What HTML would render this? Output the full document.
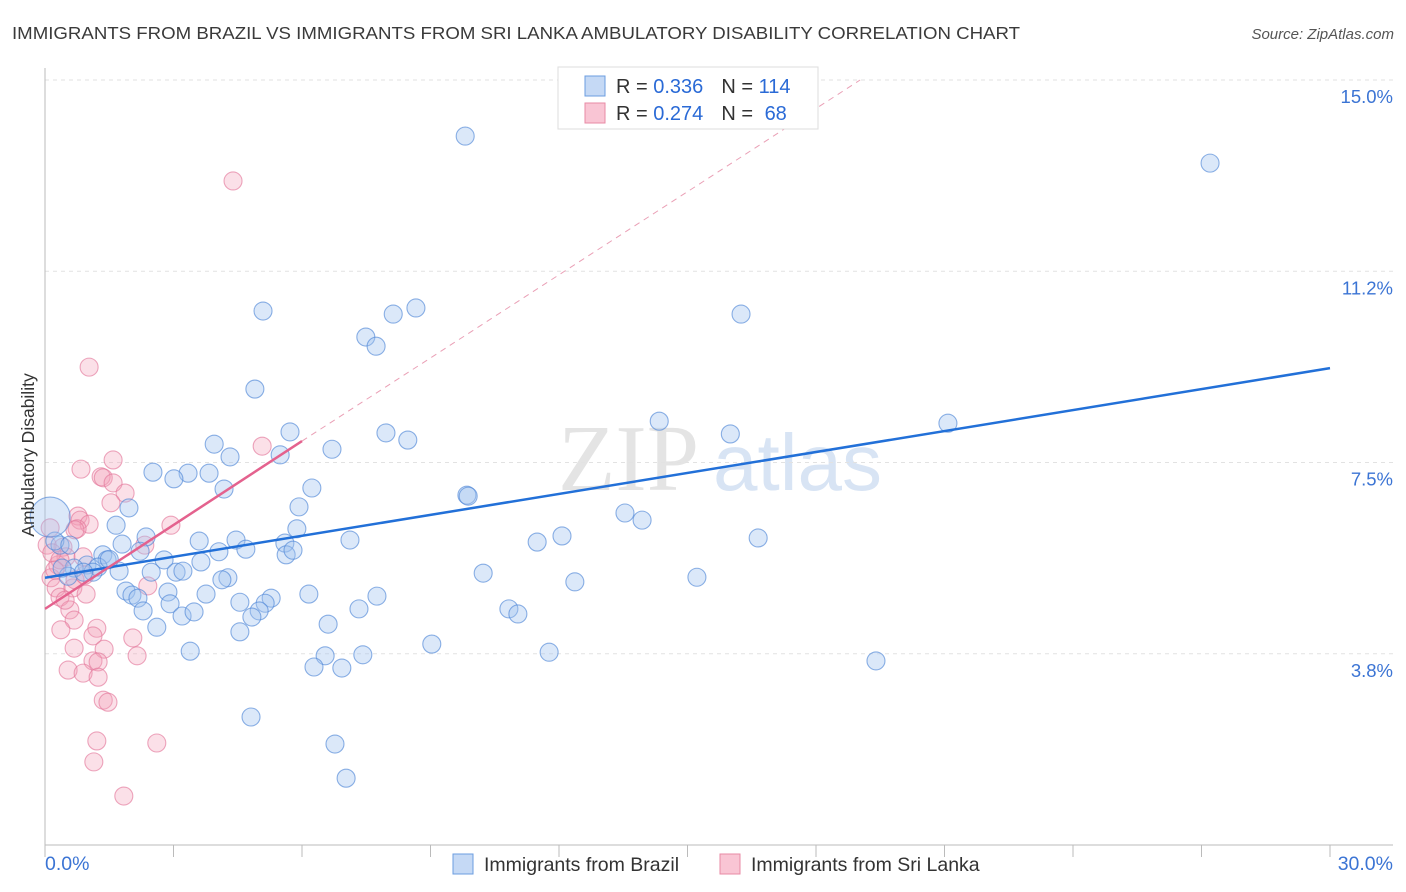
<!DOCTYPE html>
<html><head><meta charset="utf-8"><style>
body{margin:0;background:#fff;font-family:"Liberation Sans",sans-serif;}
</style></head><body>
<svg id="chart" width="1406" height="892" xmlns="http://www.w3.org/2000/svg" style="display:block">
<text x="12" y="39" font-size="17.5" fill="#3a3a3a" textLength="1008" lengthAdjust="spacingAndGlyphs">IMMIGRANTS FROM BRAZIL VS IMMIGRANTS FROM SRI LANKA AMBULATORY DISABILITY CORRELATION CHART</text>
<text x="1394" y="39" font-size="15" fill="#555" text-anchor="end" font-style="italic">Source: ZipAtlas.com</text>
<text x="720" y="490" font-size="94" text-anchor="middle" fill="#e4e4e4" font-family="Liberation Serif, serif">ZIP<tspan fill="#d8e4f4" font-family="Liberation Sans, sans-serif" font-size="80" dx="14">atlas</tspan></text>
<g id="grid"></g>
<g id="axes"></g>
<g id="pts"></g>
<g id="trends"></g>
<text transform="translate(34,455) rotate(-90)" font-size="17.5" fill="#333" text-anchor="middle">Ambulatory Disability</text>
<g>
<rect x="558" y="67" width="260" height="62" fill="#fff" stroke="#ddd"/>
<rect x="585" y="76" width="20" height="20" fill="#c5d9f5" stroke="#6b9de0"/>
<rect x="585" y="103" width="20" height="20" fill="#f9c5d4" stroke="#e88aa5"/>
<text x="616" y="93" font-size="20" fill="#333">R = <tspan fill="#2a6ad6">0.336</tspan><tspan dx="18">N = </tspan><tspan fill="#2a6ad6">114</tspan></text>
<text x="616" y="120" font-size="20" fill="#333">R = <tspan fill="#2a6ad6">0.274</tspan><tspan dx="18">N = </tspan><tspan fill="#2a6ad6" dx="6">68</tspan></text>
</g>
<g>
<rect x="453" y="854" width="20" height="20" fill="#c5d9f5" stroke="#6b9de0"/>
<text x="484" y="871" font-size="19.5" fill="#333">Immigrants from Brazil</text>
<rect x="720" y="854" width="20" height="20" fill="#f9c5d4" stroke="#e88aa5"/>
<text x="751" y="871" font-size="19.5" fill="#333">Immigrants from Sri Lanka</text>
</g>
</svg>
<script>
const xTicks=[0,3,6,9,12,15,18,21,24,27,30];
const yGrid=[3.75,7.5,11.25,15];
const yLabels=["3.8%","7.5%","11.2%","15.0%"];
const brazilX=[9.81,27.2,5.09,8.66,8.13,7.49,7.73,16.25,4.9,14.34,21.08,16.0,5.72,7.96,8.47,3.95,6.7,4.32,5.49,2.52,3.34,3.01,3.83,4.18,6.23,9.85,9.88,5.93,1.96,1.66,13.54,13.94,5.88,2.36,4.46,3.6,7.12,11.49,12.07,16.65,5.6,1.8,0.35,2.22,4.06,4.69,5.63,5.79,1.35,2.78,3.64,1.45,0.98,1.24,0.68,1.12,1.73,2.48,3.06,3.22,0.54,10.23,4.27,4.13,12.37,15.22,1.89,2.03,2.87,3.76,6.16,2.17,7.75,5.28,4.55,5.14,2.92,2.29,3.2,3.48,5.0,4.83,7.33,10.83,11.04,2.61,6.61,4.55,9.03,3.39,6.54,7.42,11.77,19.4,6.28,6.93,4.81,6.77,7.03,0.23,0.58,0.4,0.9,1.5];
const brazilY=[13.9,13.37,10.47,10.53,10.41,9.96,9.78,10.41,8.94,8.31,8.27,8.06,8.1,8.08,7.94,7.86,7.76,7.61,7.65,7.31,7.29,7.18,7.29,6.98,7.0,6.86,6.84,6.63,6.61,6.27,6.51,6.37,6.2,6.04,5.98,5.96,5.98,5.94,6.06,6.02,5.92,5.9,5.88,5.76,5.75,5.8,5.69,5.78,5.69,5.59,5.55,5.59,5.49,5.45,5.43,5.35,5.37,5.35,5.35,5.37,5.27,5.33,5.24,5.2,5.16,5.25,4.98,4.9,4.96,4.92,4.92,4.84,4.88,4.84,4.76,4.74,4.73,4.59,4.49,4.57,4.59,4.47,4.63,4.63,4.53,4.27,4.33,4.18,3.94,3.8,3.71,3.73,3.78,3.61,3.49,3.47,2.51,1.98,1.31,5.96,5.88,5.43,5.35,5.6];
const lankaX=[4.39,1.03,5.07,1.59,0.84,1.31,1.36,1.59,1.87,1.54,0.77,0.82,2.94,1.03,0.75,2.33,0.42,0.49,0.89,0.3,2.4,0.14,0.26,0.65,0.96,0.35,0.58,0.68,0.37,1.21,1.12,2.05,0.68,1.38,2.15,1.12,1.24,0.54,0.89,1.24,1.36,1.47,1.21,2.61,1.14,1.84,0.12,0.05,0.16,0.35,0.23,0.7,0.93,0.47,0.7];
const lankaY=[13.02,9.37,7.82,7.55,7.37,7.22,7.2,7.1,6.9,6.71,6.45,6.37,6.27,6.29,6.2,5.88,5.84,5.65,5.65,5.49,5.08,5.24,5.04,5.04,4.92,4.86,4.61,4.41,4.22,4.25,4.1,4.06,3.86,3.84,3.71,3.61,3.59,3.43,3.37,3.29,2.84,2.8,2.04,2.0,1.63,0.96,6.22,5.88,5.73,5.59,5.39,5.2,5.29,4.8,6.18];
const bigX=[0.12], bigY=[6.43];
const blueTrend=[[0,5.24],[30,9.35]];
const pinkTrend=[[0,4.63],[6,7.92]];
const pinkDash=[[6,7.92],[19.03,15]];
const NS="http://www.w3.org/2000/svg";
const X=v=>45+v*(1285/30), Y=v=>845-v*51;
function mk(tag,attrs,parent){const e=document.createElementNS(NS,tag);for(const k in attrs)e.setAttribute(k,attrs[k]);parent.appendChild(e);return e;}
const grid=document.getElementById('grid'),axes=document.getElementById('axes'),pts=document.getElementById('pts'),tr=document.getElementById('trends');
yGrid.forEach((v,i)=>{
 const l=mk('line',{x1:45,x2:1393,y1:Y(v),y2:Y(v),stroke:'#e2e2e2','stroke-dasharray':'4,4'},grid);
 
 
 const t=mk('text',{x:1393,y:Y(v)+23,'font-size':18.5,fill:'#3b74d4','text-anchor':'end'},grid);
 t.textContent=yLabels[i];
 
 
});
mk('line',{x1:45,x2:45,y1:68,y2:845,stroke:'#bbb'},axes);
mk('line',{x1:45,x2:1393,y1:845,y2:845,stroke:'#bbb'},axes);
xTicks.forEach(v=>{const l=mk('line',{x1:X(v),x2:X(v),y1:845,y2:857,stroke:'#bbb'},axes);
 
 });
const t0=mk('text',{x:45,y:870,'font-size':19.5,fill:'#3b74d4'},axes);t0.textContent='0.0%';


const t1=mk('text',{x:1393,y:870,'font-size':19.5,fill:'#3b74d4','text-anchor':'end'},axes);t1.textContent='30.0%';


lankaX.forEach((v,i)=>{const c=mk('circle',{cx:X(v),cy:Y(lankaY[i]),r:9,fill:'rgba(244,160,185,0.32)',stroke:'rgba(228,120,155,0.65)','stroke-width':1.1},pts);
 
 });
brazilX.forEach((v,i)=>{const c=mk('circle',{cx:X(v),cy:Y(brazilY[i]),r:9,fill:'rgba(160,195,240,0.38)',stroke:'rgba(80,135,215,0.65)','stroke-width':1.1},pts);
 
 });
bigX.forEach((v,i)=>{const c=mk('circle',{cx:X(v),cy:Y(bigY[i]),r:20,fill:'rgba(160,195,240,0.38)',stroke:'rgba(80,135,215,0.65)','stroke-width':1.1},pts);
 
 });
const d=mk('line',{x1:X(pinkDash[0][0]),y1:Y(pinkDash[0][1]),x2:X(pinkDash[1][0]),y2:Y(pinkDash[1][1]),stroke:'#eaa0b6','stroke-dasharray':'6,5','stroke-width':1},tr);


const b=mk('line',{x1:X(blueTrend[0][0]),y1:Y(blueTrend[0][1]),x2:X(blueTrend[1][0]),y2:Y(blueTrend[1][1]),stroke:'#2270d8','stroke-width':2.5},tr);


const p=mk('line',{x1:X(pinkTrend[0][0]),y1:Y(pinkTrend[0][1]),x2:X(pinkTrend[1][0]),y2:Y(pinkTrend[1][1]),stroke:'#e4628e','stroke-width':2.5},tr);


</script>
</body></html>
